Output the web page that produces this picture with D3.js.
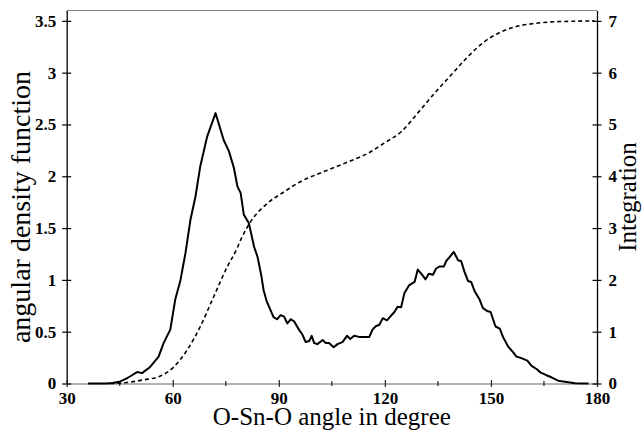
<!DOCTYPE html>
<html>
<head>
<meta charset="utf-8">
<script src="https://cdn.jsdelivr.net/npm/d3@7"></script>
<style>
  body { margin: 0; background: #fff; }
  svg text { font-family: "Liberation Serif", "Times New Roman", serif; fill: #000; }
</style>
</head>
<body>
<div id="chart"></div>
<script>
// angle (degree) and angular density function
var angle = [36, 41, 43, 45.2, 47, 48, 49.9, 51.3, 53.6, 56, 57.4, 59.3, 60.7, 62.2, 63.6, 65, 66.4, 67.8, 69.7, 72.1,
  74.4, 75.9, 77.3, 78.3, 79.2, 80.1, 81.5, 83, 84, 85, 85.7, 86.5, 87.5, 88.5, 89.5,
  90.5, 91.5, 92.4, 93.4, 94.3, 95.7, 96.7, 97.6, 98.6, 99.3, 100, 100.9, 102.4, 103.3, 104.2, 105.5, 106.6, 108,
  109.3, 110.2, 111.3, 112.7, 115.6, 116.5, 117.5, 118.4, 119.4, 120.6, 121.5, 122.7, 123.6, 124.6, 125.5, 126.9,
  128.4, 129.3, 130.5, 131.5, 132.4, 133.6, 134.5, 135.5, 136.7, 137.4, 138.3, 139.5, 140.7, 141.6, 142.5, 143.5,
  144.4, 145.4, 146.8, 147.7, 148.9, 149.9, 151.3, 152.5, 153.4, 154.9, 156.3, 157.2, 158.6, 160.3, 161.5, 162.9,
  164.1, 165.7, 167.1, 169, 171.4, 173.8, 177.6];
var density = [0, 0, 0.005, 0.02, 0.05, 0.07, 0.11, 0.10, 0.16, 0.26, 0.39, 0.52, 0.81, 1.0, 1.26, 1.58, 1.80, 2.1, 2.38, 2.61,
  2.35, 2.24, 2.08, 1.90, 1.84, 1.63, 1.55, 1.32, 1.22, 1.05, 0.9, 0.8, 0.72, 0.64, 0.62,
  0.66, 0.645, 0.58, 0.62, 0.60, 0.52, 0.47, 0.40, 0.41, 0.46, 0.39, 0.38, 0.42, 0.39, 0.39, 0.35, 0.38, 0.40,
  0.46, 0.43, 0.46, 0.45, 0.45, 0.52, 0.555, 0.565, 0.63, 0.61, 0.645, 0.69, 0.74, 0.735, 0.87, 0.95,
  0.98, 1.10, 1.05, 1.005, 1.06, 1.05, 1.11, 1.13, 1.13, 1.185, 1.22, 1.27, 1.19, 1.18, 1.08, 0.99,
  0.98, 0.89, 0.81, 0.73, 0.70, 0.69, 0.55, 0.53, 0.45, 0.355, 0.30, 0.26, 0.245, 0.22, 0.17, 0.14,
  0.105, 0.08, 0.06, 0.027, 0.015, 0.002, 0];

// running integration (right axis)
var intAngle = [42.3, 47, 51.7, 56.5, 60.3, 64.1, 67.8, 71.6, 75.4, 78.2, 79.2, 82, 86.8, 91.5, 96.2, 100.9, 105.7,
  110.4, 115.1, 119.8, 124.6, 129.3, 134, 138.8, 143.5, 148.2, 153, 157.7, 162.4, 167.1, 171.9, 179.3];
var integration = [0, 0.02, 0.07, 0.145, 0.32, 0.65, 1.10, 1.68, 2.25, 2.61, 2.77, 3.12, 3.48, 3.70, 3.90, 4.04, 4.17,
  4.30, 4.44, 4.64, 4.86, 5.22, 5.60, 5.96, 6.31, 6.60, 6.79, 6.90, 6.95, 6.98, 6.99, 7.0];

var xTicks = [30, 60, 90, 120, 150, 180];
var xMinor = [45, 75, 105, 135, 165];
var yLeftTicks = [0, 0.5, 1, 1.5, 2, 2.5, 3, 3.5];
var yRightTicks = [0, 1, 2, 3, 4, 5, 6, 7];

function draw_chart() {
    var W = 642, H = 433;
    var m = {left: 66.7, right: 597, top: 10.5, bottom: 383.5};

    var svg = d3.select("#chart").append("svg")
        .attr("width", W)
        .attr("height", H);

    var x = d3.scaleLinear().domain([30, 180]).range([m.left, m.right]);
    var yL = d3.scaleLinear().domain([0, 3.6]).range([m.bottom, m.top]);
    var yR = d3.scaleLinear().domain([0, 7.2]).range([m.bottom, m.top]);

    // top frame line
    svg.append("line")
        .attr("x1", m.left).attr("x2", m.right)
        .attr("y1", m.top).attr("y2", m.top)
        .attr("stroke", "#888").attr("stroke-width", 1);

    // x axis
    var gx = svg.append("g")
        .attr("transform", "translate(0," + m.bottom + ")")
        .call(d3.axisBottom(x).tickValues(xTicks).tickSizeInner(3.5).tickSizeOuter(0).tickPadding(5).tickFormat(d3.format("d")));
    gx.select(".domain").attr("stroke", "#666");
    gx.selectAll(".tick line").attr("y1", -3.5).attr("stroke", "#222").attr("stroke-width", 1.2);
    gx.selectAll("text").attr("font-size", 17).attr("font-weight", "bold");
    gx.selectAll(".minor").data(xMinor).enter().append("line")
        .attr("class", "minor")
        .attr("x1", function(d) { return x(d); }).attr("x2", function(d) { return x(d); })
        .attr("y1", -2.5).attr("y2", 2.5)
        .attr("stroke", "#222").attr("stroke-width", 1.2);

    // left axis
    var gl = svg.append("g")
        .attr("transform", "translate(" + m.left + ",0)")
        .call(d3.axisLeft(yL).tickValues(yLeftTicks).tickSizeInner(4.5).tickSizeOuter(0).tickPadding(6).tickFormat(function(d) { return String(d); }));
    gl.select(".domain").attr("stroke", "#000").attr("stroke-width", 1.3);
    gl.selectAll(".tick line").attr("x2", 4.5).attr("x1", -4.5).attr("stroke-width", 1.2);
    gl.selectAll("text").attr("font-size", 17).attr("font-weight", "bold");

    // right axis
    var gr = svg.append("g")
        .attr("transform", "translate(" + m.right + ",0)")
        .call(d3.axisRight(yR).tickValues(yRightTicks).tickSizeInner(4.5).tickSizeOuter(0).tickPadding(7));
    gr.select(".domain").attr("stroke", "#000").attr("stroke-width", 1.3);
    gr.selectAll(".tick line").attr("x1", -4.5).attr("x2", 4.5).attr("stroke-width", 1.2);
    gr.selectAll("text").attr("font-size", 17).attr("font-weight", "bold");

    // curves
    var densityLine = d3.line()
        .x(function(d, i) { return x(angle[i]); })
        .y(function(d) { return yL(d); });
    svg.append("path")
        .datum(density)
        .attr("d", densityLine)
        .attr("fill", "none")
        .attr("stroke", "#000")
        .attr("stroke-width", 2)
        .attr("stroke-linejoin", "round");

    var intLine = d3.line()
        .x(function(d, i) { return x(intAngle[i]); })
        .y(function(d) { return yR(d); })
        .curve(d3.curveMonotoneX);
    svg.append("path")
        .datum(integration)
        .attr("d", intLine)
        .attr("fill", "none")
        .attr("stroke", "#000")
        .attr("stroke-width", 1.6)
        .attr("stroke-dasharray", "4,3");

    // titles
    svg.append("text")
        .attr("x", (m.left + m.right) / 2).attr("y", 425)
        .attr("text-anchor", "middle")
        .attr("font-size", 25)
        .text("O-Sn-O angle in degree");

    svg.append("text")
        .attr("transform", "translate(30,207) rotate(-90)")
        .attr("text-anchor", "middle")
        .attr("font-size", 28)
        .text("angular density function");

    svg.append("text")
        .attr("transform", "translate(636," + ((m.top + m.bottom) / 2) + ") rotate(-90)")
        .attr("text-anchor", "middle")
        .attr("font-size", 25)
        .text("Integration");
}
draw_chart();
</script>
</body>
</html>
